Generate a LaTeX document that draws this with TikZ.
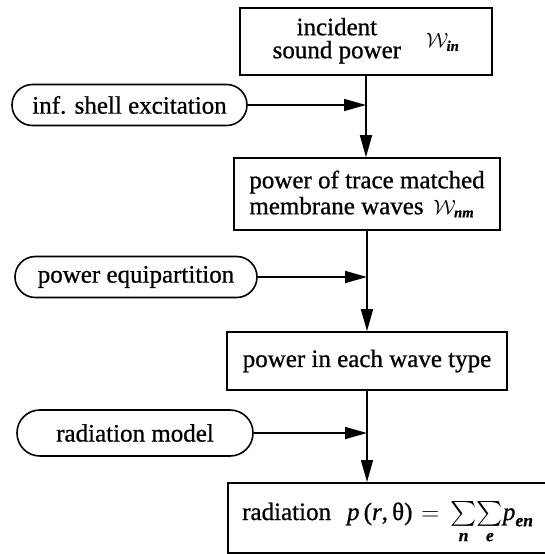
\documentclass[tikz,border=0pt]{standalone}
\usepackage{amsmath}
\usepackage{fontspec}
\setmainfont{Liberation Serif}[RawFeature={embolden=0.8}]
\usetikzlibrary{arrows.meta}
\tikzset{
  box/.style={draw, line width=1.6pt, inner sep=0pt, font=\fontsize{25}{26}\selectfont},
  pill/.style={draw, line width=1.6pt, inner sep=0pt, font=\fontsize{25}{26}\selectfont},
  label/.style={inner sep=0pt, font=\fontsize{25}{26}\selectfont},
  arr/.style={line width=1.5pt, -{Triangle[length=22pt,width=12pt]}},
}
\newcommand{\symW}[1]{{\fontsize{21}{21}\selectfont$\mathcal{W}_{\textbf{\textit{#1}}}$}}
\begin{document}
\begin{tikzpicture}[x=1pt,y=-1pt]
\useasboundingbox (0,0) rectangle (545,554);
\node[box, minimum width=252pt, minimum height=67pt] (b1) at (366,41.5)
  {\begin{tabular}{@{}c@{}}incident\\[-3pt]sound power\end{tabular}\hspace{25pt}\symW{in}};
\node[box, minimum width=266pt, minimum height=72pt, align=left] (b2) at (367,194)
  {power of trace matched\\membrane waves\hspace{10pt}\symW{nm}};
\node[box, minimum width=280pt, minimum height=58pt] (b3) at (367,361)
  {power in each wave type};
\node[box, anchor=north west, minimum width=330pt, minimum height=70pt] (b4) at (227,482) {};
\node[label, anchor=base west] (t4) at (242,520)
  {radiation\hspace{16pt}\textit{p}\,(\textit{r},\,θ)\hspace{9pt}$=\,\sum\limits_{\textbf{\textit{n}}}\!\sum\limits_{\textbf{\textit{e}}}\!\textit{p}_{\textbf{\textit{en}}}$};
\node[pill, minimum width=235pt, minimum height=41pt, rounded corners=20.4pt] (p1) at (129.5,105) {inf. shell excitation};
\node[pill, minimum width=242pt, minimum height=41pt, rounded corners=20.4pt] (p2) at (136,277) {power equipartition};
\node[pill, minimum width=236pt, minimum height=46pt, rounded corners=22.9pt] (p3) at (135,433) {radiation model};
\draw[arr] (b1.south) -- (b1.south |- b2.north);
\draw[arr] (b2.south) -- (b2.south |- b3.north);
\draw[arr] (b3.south) -- (b3.south |- b4.north);
\draw[arr] (p1.east) -- (p1.east -| b1.south);
\draw[arr] (p2.east) -- (p2.east -| b2.south);
\draw[arr] (p3.east) -- (p3.east -| b3.south);
\end{tikzpicture}
\end{document}
